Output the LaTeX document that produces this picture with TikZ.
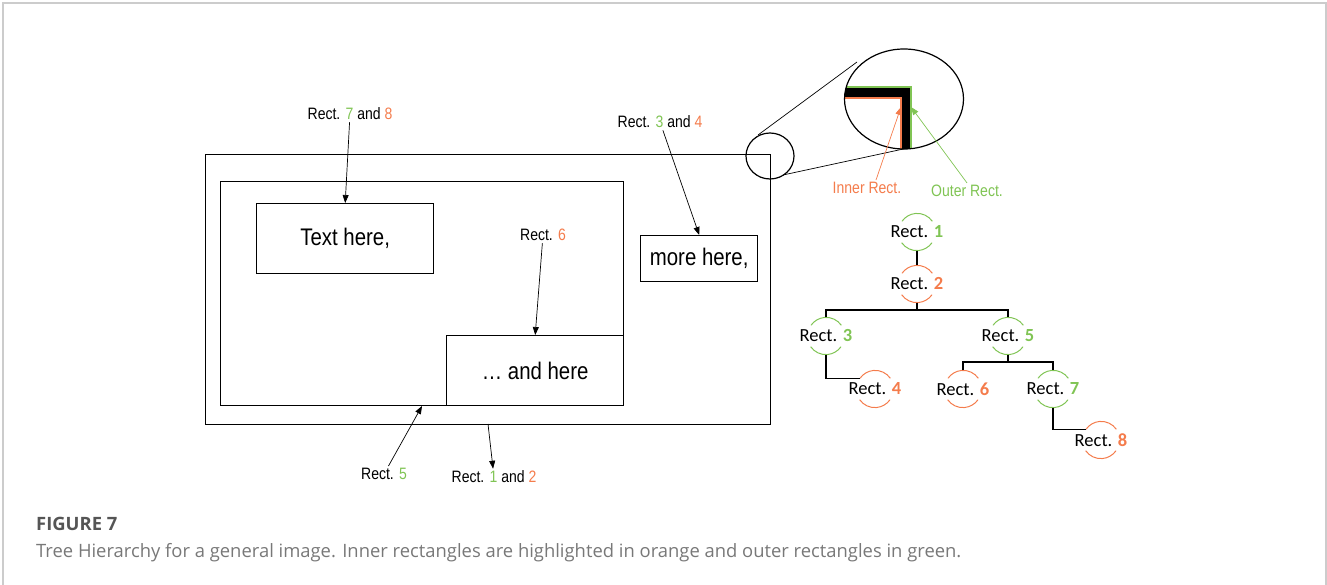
\documentclass[tikz,border=0pt]{standalone}
\usepackage{fontspec}
\setmainfont{Liberation Sans}
\newfontfamily\narrowfont[FakeStretch=0.85]{Liberation Sans}
\newfontfamily\treefont{Carlito}
\newfontfamily\capfont{Open Sans}
\usetikzlibrary{arrows.meta,shapes.geometric}
\definecolor{lo}{RGB}{244,124,76}
\definecolor{lg}{RGB}{128,196,84}
\definecolor{framegray}{RGB}{204,204,204}
\definecolor{capgray}{RGB}{120,120,120}
\definecolor{figgray}{RGB}{85,85,85}
\newcommand\mytn[5]{%
  \node[tn] (#1) at (#2,#3) {};
  \draw[#4, tarc] (#1.35) arc[start angle=35,end angle=145,radius=18.5pt];
  \draw[#4, tarc] (#1.215) arc[start angle=215,end angle=325,radius=18.5pt];
  \node[tlab] (#1l) at (#1) {Rect. \textbf{\textcolor{#4}{#5}}};
}
\begin{document}
\begin{tikzpicture}[x=1pt,y=1pt,
  box/.style={draw, line width=1.4pt, inner sep=0pt},
  lab/.style={font=\narrowfont\fontsize{16.5}{19}\selectfont, inner sep=2pt},
  boxtext/.style={font=\narrowfont\fontsize{24}{28}\selectfont},
  ptr/.style={-{Triangle[length=8pt,width=6pt]}, line width=0.7pt},
  tn/.style={circle, minimum size=37pt, inner sep=0pt},
  tarc/.style={line width=1pt},
  tlab/.style={font=\treefont\fontsize{18.5}{22}\selectfont, inner sep=0pt},
  tline/.style={line width=1.3pt},
]
\useasboundingbox (0,0) rectangle (1327,-585);
% figure frame
\draw[framegray, line width=1.5pt] (3,-585) -- (3,-3) -- (1326,-3) -- (1326,-585);

% rectangles
\node[box, minimum width=565pt, minimum height=270pt, anchor=north west] (r1) at (205,-154) {};
\node[box, minimum width=403pt, minimum height=224pt, anchor=north west] (r2) at (220,-181) {};
\node[box, boxtext, minimum width=177pt, minimum height=70pt, anchor=north west] (txt) at (256,-203) {Text here,};
\node[box, boxtext, minimum width=117pt, minimum height=46pt, anchor=north west] (more) at (640,-235) {more here,};
\node[box, boxtext, minimum width=177pt, minimum height=70pt, anchor=north west] (andh) at (446,-335) {\ldots\ and here};

% labels
\node[lab] (l78) at (350,-114) {Rect. \textcolor{lg}{7} and \textcolor{lo}{8}};
\node[lab] (l34) at (660,-122) {Rect. \textcolor{lg}{3} and \textcolor{lo}{4}};
\node[lab] (l6) at (543,-235) {Rect. \textcolor{lo}{6}};
\node[lab] (l5) at (384,-474) {Rect. \textcolor{lg}{5}};
\node[lab] (l12) at (494,-477) {Rect. \textcolor{lg}{1} and \textcolor{lo}{2}};

\coordinate (e5) at (422,-406);
\coordinate (s12) at (488,-424);
\draw[ptr] (l78) -- (txt.north);
\draw[ptr] (l34) -- (more.north);
\draw[ptr] (l6) -- (andh.north);
\draw[ptr] (l5) -- (e5);
\draw[ptr] (s12) -- (l12);

% magnifier
\node[draw, ellipse, line width=1.2pt, minimum width=48pt, minimum height=46pt, inner sep=0pt] (mag) at (770,-156) {};
\begin{scope}
  \clip (904,-99) ellipse [x radius=59.5, y radius=50];
  \fill[black] (840,-88) -- (910,-88) -- (910,-160) -- (902,-160) -- (902,-97) -- (840,-97) -- cycle;
  \draw[lg, line width=2pt] (840,-87) -- (911,-87) -- (911,-160);
  \draw[lo, line width=2pt] (840,-98) -- (901,-98) -- (901,-160);
\end{scope}
\node[draw, ellipse, line width=1.2pt, minimum width=119pt, minimum height=100pt, inner sep=0pt] (big) at (904,-99) {};
\coordinate (m1) at (758,-135);
\coordinate (m2) at (783,-175);
\coordinate (b1) at (857,-62);
\coordinate (b2) at (908,-148);
\draw[line width=0.7pt] (m1) -- (b1);
\draw[line width=0.7pt] (m2) -- (b2);

\node[lab, text=lo] (li) at (867,-188) {Inner Rect.};
\node[lab, text=lg] (lout) at (967,-191) {Outer Rect.};
\coordinate (ei) at (901,-107);
\coordinate (eo) at (911,-107);
\draw[ptr, lo] ([xshift=9pt]li.north) -- (ei);
\draw[ptr, lg] (lout.north) -- (eo);

% tree
\mytn{t1}{917}{-232}{lg}{1}
\mytn{t2}{917}{-284}{lo}{2}
\mytn{t3}{826}{-336}{lg}{3}
\mytn{t4}{875}{-389}{lo}{4}
\mytn{t5}{1008}{-336}{lg}{5}
\mytn{t6}{963}{-389}{lo}{6}
\mytn{t7}{1053}{-389}{lg}{7}
\mytn{t8}{1101}{-440}{lo}{8}
\coordinate (bb2) at (917,-310);
\coordinate (bb5) at (1008,-362);
\draw[tline] (t1.south) -- (t2.north);
\draw[tline] (t2.south) -- (bb2);
\draw[tline] (t3.north) |- (bb2) -| (t5.north);
\draw[tline] (t3.south) |- (t4.145);
\draw[tline] (t5.south) -- (bb5);
\draw[tline] (t6.north) |- (bb5) -| (t7.north);
\draw[tline] (t7.south) |- (t8.145);

% caption
\node[anchor=west, inner sep=0pt, font=\capfont\bfseries\fontsize{18.4}{22}\selectfont, text=figgray] (fig) at (36,-524) {FIGURE 7};
\node[anchor=west, inner sep=0pt, font=\capfont\fontsize{18.4}{22}\selectfont, text=capgray] (cap) at (36,-553) {Tree Hierarchy for a general image. Inner rectangles are highlighted in orange and outer rectangles in green.};
\end{tikzpicture}
\end{document}
